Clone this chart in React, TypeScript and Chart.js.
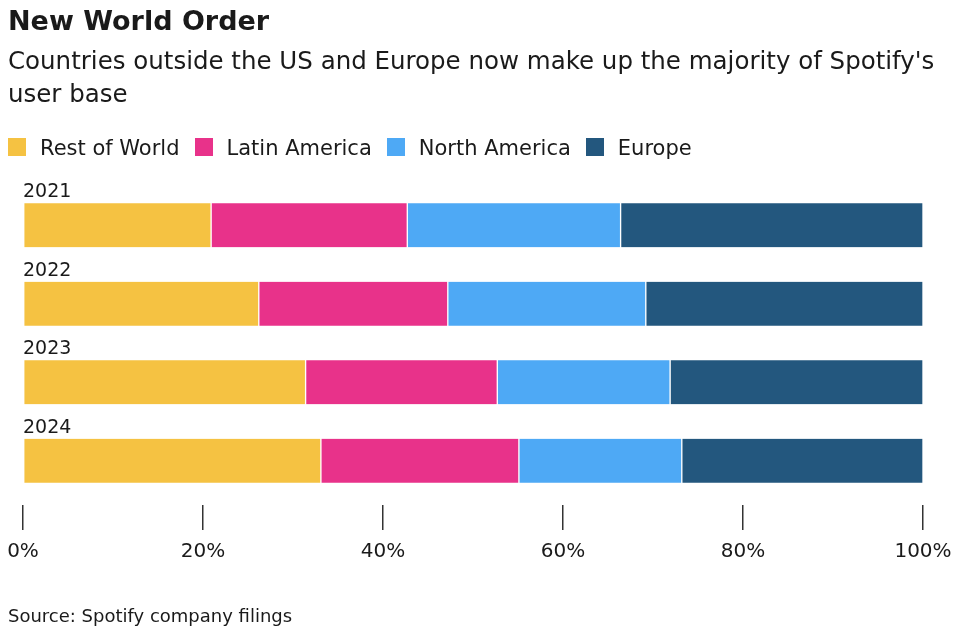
import React, { useEffect, useRef } from "react";
import { Chart, registerables } from "chart.js";

Chart.register(...registerables);

const years = ["2021", "2022", "2023", "2024"];
const seriesNames = ["Rest of World", "Latin America", "North America", "Europe"];
const seriesColors = ["#F5C242", "#E8328A", "#4EA9F5", "#23577E"];
const restOfWorld = [20.9, 26.2, 31.4, 33.1];
const latinAmerica = [21.8, 21.0, 21.3, 22.0];
const northAmerica = [23.7, 22.0, 19.2, 18.1];
const europe = [33.6, 30.8, 28.1, 26.8];
const xTicks = [0, 20, 40, 60, 80, 100];

const FONT = "'DejaVu Sans', sans-serif";
const TEXT = "#1a1a1a";

export default function App() {
  const ref = useRef<HTMLCanvasElement | null>(null);

  useEffect(() => {
    if (!ref.current) return;
    const values = [restOfWorld, latinAmerica, northAmerica, europe];
    const chart = new Chart(ref.current, {
      type: "bar",
      data: {
        labels: years,
        datasets: seriesNames.map((name, i) => ({
          label: name,
          data: values[i],
          backgroundColor: seriesColors[i],
          borderColor: "#ffffff",
          borderWidth: { left: 1, right: 1, top: 0, bottom: 0 },
          borderSkipped: false,
          barThickness: 44,
        })),
      },
      options: {
        indexAxis: "y",
        animation: false,
        responsive: false,
        maintainAspectRatio: false,
        devicePixelRatio: 1,
        layout: { padding: { left: 23, right: 37, top: 186, bottom: 64 } },
        plugins: {
          legend: { display: false },
          tooltip: { enabled: false },
          title: { display: false },
        },
        scales: {
          x: {
            stacked: true,
            min: 0,
            max: 100,
            afterBuildTicks: (scale: any) => {
              scale.ticks = xTicks.map((v) => ({ value: v }));
            },
            afterFit: (scale: any) => {
              scale.paddingLeft = 0;
              scale.paddingRight = 0;
            },
            ticks: {
              padding: 10,
              color: TEXT,
              font: { family: FONT, size: 20 },
              callback: (v: any) => `${v}%`,
              maxRotation: 0,
              autoSkip: false,
            },
            grid: {
              display: true,
              drawOnChartArea: false,
              drawTicks: true,
              tickLength: 25,
              color: "#333333",
              lineWidth: 1.5,
            },
            border: { display: false },
          },
          y: {
            stacked: true,
            type: "category",
            afterBuildTicks: (scale: any) => {
              scale._valueRange = scale._valueRange + 0.064;
            },
            afterFit: (scale: any) => {
              scale.width = 0;
            },
            ticks: {
              mirror: true,
              padding: 0,
              labelOffset: -33,
              color: TEXT,
              font: { family: FONT, size: 19 },
            },
            grid: { display: false },
            border: { display: false },
          },
        },
      },
    });
    return () => chart.destroy();
  }, []);

  return (
    <div
      style={{
        position: "fixed",
        left: 0,
        top: 0,
        width: 960,
        height: 638,
        background: "#ffffff",
        fontFamily: FONT,
        color: TEXT,
        overflow: "hidden",
      }}
    >
      <canvas
        ref={ref}
        width={960}
        height={638}
        style={{ position: "absolute", left: 0, top: 0, width: 960, height: 638 }}
      />
      <div
        style={{
          position: "absolute",
          left: 8,
          top: 8,
          fontSize: 27,
          lineHeight: "26px",
          fontWeight: 700,
          whiteSpace: "nowrap",
        }}
      >
        New World Order
      </div>
      <div
        style={{
          position: "absolute",
          left: 8,
          top: 44,
          width: 940,
          fontSize: 24.5,
          lineHeight: "33px",
        }}
      >
        Countries outside the US and Europe now make up the majority of Spotify's user base
      </div>
      <div
        style={{
          position: "absolute",
          left: 8,
          top: 138,
          display: "flex",
          gap: 15,
          whiteSpace: "nowrap",
        }}
      >
        {seriesNames.map((name, i) => (
          <div key={name} style={{ display: "flex", alignItems: "flex-start" }}>
            <div
              style={{
                width: 18,
                height: 18,
                background: seriesColors[i],
                marginRight: 14,
              }}
            />
            <div style={{ fontSize: 21, lineHeight: "21px" }}>{name}</div>
          </div>
        ))}
      </div>
      <div
        style={{
          position: "absolute",
          left: 8,
          top: 607,
          fontSize: 18,
          lineHeight: "18px",
          whiteSpace: "nowrap",
        }}
      >
        Source: Spotify company filings
      </div>
    </div>
  );
}
